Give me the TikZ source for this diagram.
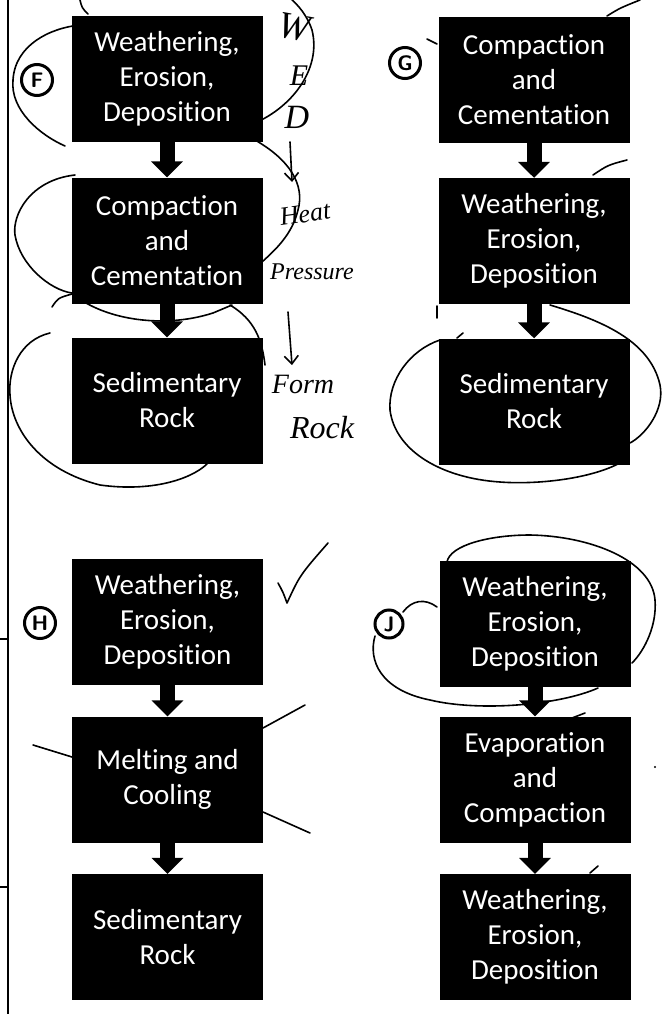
\documentclass[tikz,border=0pt]{standalone}
\usepackage{fontspec}
\setmainfont{Carlito}[Ligatures=NoCommon]
\newfontfamily\handfont{Liberation Serif}
\usetikzlibrary{arrows.meta}
\tikzset{
  box/.style={fill=black, text=white, minimum width=191pt, minimum height=126pt, inner sep=0pt,
              align=center, font=\fontsize{29}{35}\selectfont},
  blockarr/.style={line width=15pt, -{Triangle[width=31pt,length=16pt]}, black},
  ink/.style={line width=1.6pt, black, line cap=round, line join=round},
  circletter/.style={circle, draw, line width=3pt, minimum size=31pt, inner sep=0pt,
                     font=\sffamily\bfseries\fontsize{21}{21}\selectfont},
  hand/.style={font=\handfont\itshape\fontsize{26}{26}\selectfont, inner sep=0pt}
}
\begin{document}
\begin{tikzpicture}[x=1pt,y=-1pt]
\useasboundingbox (0,0) rectangle (666,1014);
% left margin line
\draw[line width=1.6pt] (8,0) -- (8,1014);
\draw[line width=1.2pt] (0,639) -- (8,639);
\draw[line width=1.2pt] (0,887) -- (8,887);

% ---------- handwritten loops (drawn first, boxes cover them) ----------
% F
\draw[ink] (80,0) .. controls (82,8) .. (88,14);
\draw[ink] (65,146) .. controls (40,135) and (10,110) .. (13,80) .. controls (15,45) and (50,28) .. (80,25);
\draw[ink] (250,125) .. controls (290,110) and (322,70) .. (312,30) .. controls (307,15) and (298,5) .. (290,-2);
\draw[ink] (255,140) .. controls (290,160) and (305,185) .. (298,210) .. controls (292,235) and (275,250) .. (262,262);
\draw[ink] (75,175) .. controls (30,180) and (12,215) .. (15,235) .. controls (20,265) and (50,290) .. (72,293)
          .. controls (100,318) and (160,330) .. (213,313) -- (232,305);
\draw[ink] (52,307) .. controls (58,298) .. (72,294);
\draw[ink] (230,305) .. controls (255,320) and (262,340) .. (265,365);
\draw[ink] (50,333) .. controls (20,340) and (8,370) .. (10,395) .. controls (12,430) and (40,470) .. (100,485)
          .. controls (150,492) and (190,480) .. (207,464);
% G
\draw[ink] (427,39) -- (437,44);
\draw[ink] (607,16) .. controls (620,8) .. (640,0);
\draw[ink] (593,175) .. controls (608,165) .. (627,160);
\draw[ink] (437,306) -- (437,318);
\draw[ink] (463,333) -- (457,338);
\draw[ink] (550,305) .. controls (600,320) and (650,340) .. (660,385) .. controls (665,410) and (645,435) .. (630,443);
\draw[ink] (628,458) .. controls (600,478) and (540,485) .. (500,482) .. controls (440,478) and (395,450) .. (390,410)
          .. controls (388,380) and (410,350) .. (440,340);
% H
\draw[ink] (278,583) .. controls (283,592) .. (287,603) .. controls (300,575) .. (328,543);
\draw[ink] (263,728) -- (305,705);
\draw[ink] (33,745) -- (72,757);
\draw[ink] (263,812) -- (310,833);
% J
\draw[ink] (437,607) .. controls (425,598) and (412,600) .. (403,612);
\draw[ink] (375,636) .. controls (368,660) and (380,690) .. (430,700) .. controls (480,712) and (560,705) .. (598,688);
\draw[ink] (447,562) .. controls (450,545) and (490,535) .. (530,535) .. controls (590,536) and (652,560) .. (655,600)
          .. controls (657,625) and (645,650) .. (632,663);
\draw[ink] (572,718) -- (585,713);
\draw[ink] (590,873) -- (598,866);
\fill (655,767) circle (1.2pt);

% ---------- boxes ----------
\node[box] (f1) at (167,79)  {Weathering,\\Erosion,\\Deposition};
\node[box] (f2) at (167,240.5) {Compaction\\and\\Cementation};
\node[box] (f3) at (167,400.5) {Sedimentary\\Rock};
\node[box] (g1) at (534,80)  {Compaction\\and\\Cementation};
\node[box] (g2) at (534,241) {Weathering,\\Erosion,\\Deposition};
\node[box] (g3) at (534,401.5) {Sedimentary\\Rock};
\node[box] (h1) at (167.5,622) {Weathering,\\Erosion,\\Deposition};
\node[box] (h2) at (167.5,779.5) {Melting and\\Cooling};
\node[box] (h3) at (167.5,937) {Sedimentary\\Rock};
\node[box] (j1) at (535,623.5) {Weathering,\\Erosion,\\Deposition};
\node[box] (j2) at (535,779.5) {Evaporation\\and\\Compaction};
\node[box] (j3) at (535,937) {Weathering,\\Erosion,\\Deposition};

\draw[blockarr] (f1) -- (f2);
\draw[blockarr] (f2) -- (f3);
\draw[blockarr] (g1) -- (g2);
\draw[blockarr] (g2) -- (g3);
\draw[blockarr] (h1) -- (h2);
\draw[blockarr] (h2) -- (h3);
\draw[blockarr] (j1) -- (j2);
\draw[blockarr] (j2) -- (j3);

% ---------- circled letters ----------
\node[circletter] (cf) at (37,80) {F};
\node[circletter] (cg) at (405,63) {G};
\node[circletter] (ch) at (40,623) {H};
\node[circletter, minimum size=28pt] (cj) at (389,624) {J};

% ---------- handwritten notes ----------
\node[hand, rotate=-10, font=\handfont\itshape\fontsize{38}{38}\selectfont] (hw) at (294,27) {W};
\node[hand, font=\handfont\itshape\fontsize{30}{30}\selectfont] (he) at (299,76) {E};
\node[hand, font=\handfont\itshape\fontsize{34}{34}\selectfont] (hd) at (297,117) {D};
\coordinate (a1s) at (290,142);
\coordinate (a1e) at (292,182);
\draw[ink, -{Straight Barb[length=8pt,width=14pt]}] (a1s) -- (a1e);
\node[hand, rotate=8] (heat) at (305,214) {Heat};
\node[hand, font=\handfont\itshape\fontsize{24}{24}\selectfont] (press) at (312,272) {Pressure};
\coordinate (a2s) at (288,312);
\coordinate (a2e) at (292,365);
\draw[ink, -{Straight Barb[length=8pt,width=14pt]}] (a2s) -- (a2e);
\node[hand, font=\handfont\itshape\fontsize{28}{28}\selectfont] (form) at (303,384) {Form};
\node[hand, font=\handfont\itshape\fontsize{32}{32}\selectfont] (rock) at (322,428) {Rock};
\end{tikzpicture}
\end{document}
